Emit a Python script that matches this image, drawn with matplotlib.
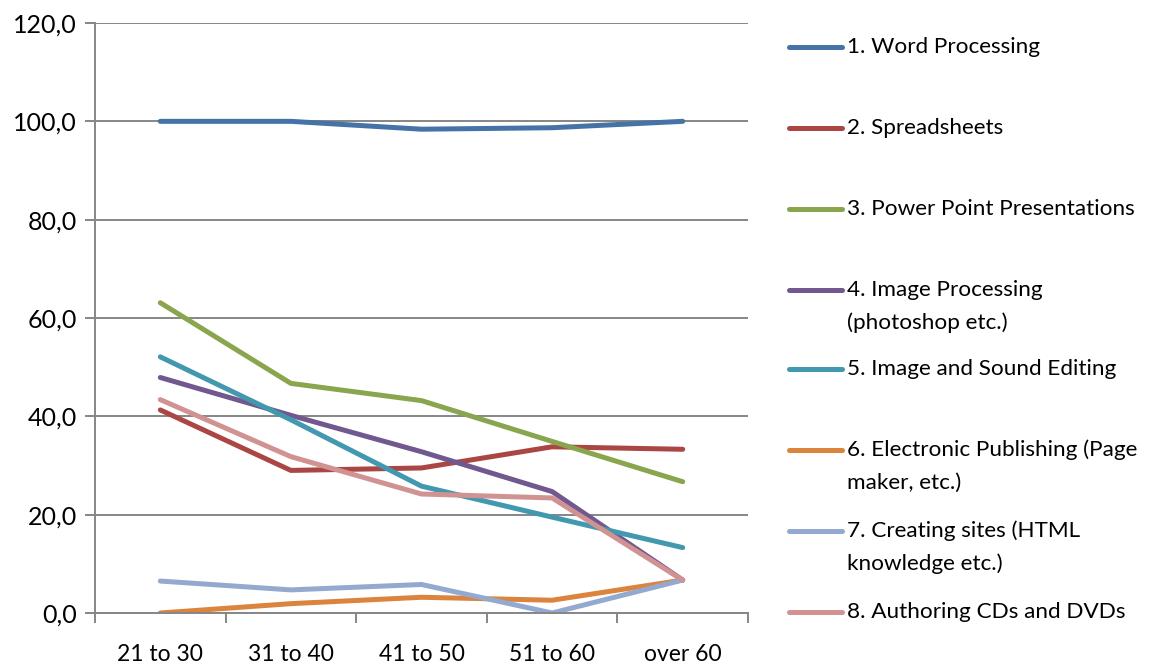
import matplotlib
matplotlib.use("Agg")
from matplotlib import pyplot as plt
from matplotlib.lines import Line2D
from matplotlib.ticker import FuncFormatter

plt.rcParams["font.family"] = ["Lato", "DejaVu Sans"]

age_groups = ["21 to 30", "31 to 40", "41 to 50", "51 to 60", "over 60"]

word_processing = [100.0, 100.0, 98.4, 98.7, 100.0]
spreadsheets = [41.3, 29.0, 29.5, 33.8, 33.3]
power_point = [63.1, 46.7, 43.2, 34.9, 26.7]
image_processing = [47.9, 40.2, 32.8, 24.7, 6.7]
image_sound = [52.1, 39.3, 25.8, 19.5, 13.3]
electronic_publishing = [0.0, 1.9, 3.2, 2.6, 6.7]
creating_sites = [6.5, 4.7, 5.8, 0.0, 6.7]
authoring_cds = [43.4, 31.8, 24.2, 23.4, 6.7]

labels = [
    "1. Word Processing",
    "2. Spreadsheets",
    "3. Power Point Presentations",
    "4. Image Processing\n(photoshop etc.)",
    "5. Image and Sound Editing",
    "6. Electronic Publishing (Page\nmaker, etc.)",
    "7. Creating sites (HTML\nknowledge etc.)",
    "8. Authoring CDs and DVDs",
]
series = [word_processing, spreadsheets, power_point, image_processing,
          image_sound, electronic_publishing, creating_sites, authoring_cds]
colors = ["#4572A7", "#AA4643", "#89A54E", "#71588F",
          "#4198AF", "#DB843D", "#93A9CF", "#D19392"]

fig = plt.figure(figsize=(11.71, 6.66), dpi=100)
ax = fig.add_axes([95 / 1171, 1 - 613 / 666, (748 - 95) / 1171, (613 - 23) / 666])

x = list(range(len(age_groups)))
for vals, c in zip(series, colors):
    ax.plot(x, vals, color=c, lw=3.6, solid_capstyle="round", solid_joinstyle="round")

grid_c = "#868686"
ax.set_ylim(0, 120)
ax.set_xlim(-0.5, len(age_groups) - 0.5)
ax.set_yticks(range(0, 121, 20))
ax.yaxis.set_major_formatter(FuncFormatter(lambda v, p: f"{v:.1f}".replace(".", ",")))
ax.yaxis.grid(True, color=grid_c, lw=1.4)
ax.set_axisbelow(True)
ax.set_xticks(x)
ax.set_xticklabels(age_groups)
ax.set_xticks([i - 0.5 for i in range(len(age_groups) + 1)], minor=True)
ax.tick_params(axis="x", which="major", length=0, pad=22, labelsize=16.5)
ax.tick_params(axis="x", which="minor", length=7, width=1.4, color=grid_c)
ax.tick_params(axis="y", length=7, width=1.4, color=grid_c, pad=6, labelsize=18)
for s in ["top", "right"]:
    ax.spines[s].set_visible(False)
for s in ["left", "bottom"]:
    ax.spines[s].set_color(grid_c)
    ax.spines[s].set_linewidth(1.4)

# legend drawn Excel-style on the right
rows_px = [47, 128, 209, 290, 369, 450, 531, 612]
W, H = 1171, 666
for lab, c, yp in zip(labels, colors, rows_px):
    yf = 1 - yp / H
    fig.add_artist(Line2D([789 / W, 842 / W], [yf, yf], color=c, lw=3.6,
                          solid_capstyle="round"))
    for k, line in enumerate(lab.split("\n")):
        fig.text(847 / W, 1 - (yp + 33 * k) / H, line, fontsize=16.2,
                 va="center", ha="left", color="black")

fig.savefig("out.png", dpi=100)
